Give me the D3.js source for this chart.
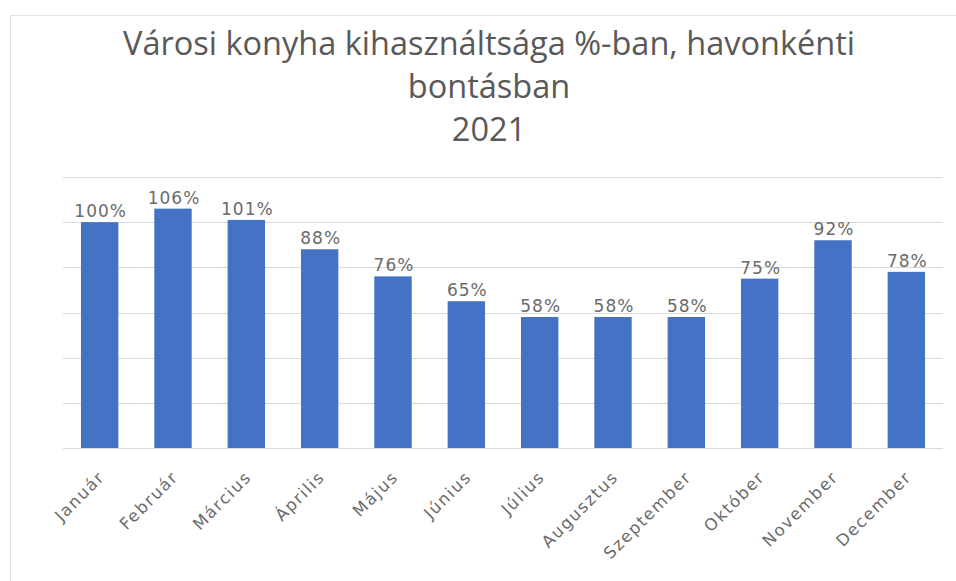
<!DOCTYPE html>
<html lang="hu">
<head>
  <meta charset="UTF-8">
  <title>Városi konyha</title>
  <style>
    body { margin: 0; background: #fff; }
    .grid line { stroke: #d9d9d9; stroke-width: 1px; }
    .grid path { display: none; }
    .title { font-family: 'Open Sans', sans-serif; font-size: 32.5px; fill: #595959; }
    .valLabel { font-family: 'DejaVu Sans', sans-serif; font-size: 17px; letter-spacing: 1px; fill: #6b6b6b; }
    .xaxis text { font-family: 'DejaVu Sans', sans-serif; font-size: 16.5px; letter-spacing: 1.6px; fill: #6b6b6b; }
    .xaxis path, .xaxis line { display: none; }
  </style>
  <script src="https://cdn.jsdelivr.net/npm/d3@7"></script>
</head>
<body>
  <div class="container"></div>
<script>
  var months = ["Január", "Február", "Március", "Április", "Május", "Június",
                "Július", "Augusztus", "Szeptember", "Október", "November", "December"];
  var values = [100, 106, 101, 88, 76, 65, 58, 58, 58, 75, 92, 78];
  var titleLines = ["Városi konyha kihasználtsága %-ban, havonkénti", "bontásban", "2021"];
  var gridTicks = [0, 20, 40, 60, 80, 100, 120];

  var svgWidth = 956, svgHeight = 581;
  var margin = {top: 177, left: 63, right: 13, bottom: 133};
  var width = svgWidth - margin.left - margin.right;
  var height = svgHeight - margin.top - margin.bottom;

  var svg = d3.select('.container').append('svg')
              .attr('width', svgWidth)
              .attr('height', svgHeight);

  // chart area frame (only top / left edges are visible in the crop)
  svg.append('rect')
     .attr('x', 10.5).attr('y', 15.5)
     .attr('width', svgWidth + 20).attr('height', svgHeight + 20)
     .attr('fill', 'none')
     .attr('stroke', '#e3e3e3');

  var x = d3.scaleBand().domain(months).range([0, width]).paddingInner(0.49).paddingOuter(0.245);
  var y = d3.scaleLinear().domain([0, 120]).range([height, 0]);

  var g = svg.append('g').attr('transform', `translate(${margin.left},${margin.top})`);

  g.append('g')
   .attr('class', 'grid')
   .call(d3.axisLeft(y).tickValues(gridTicks).tickSize(-width).tickFormat(''))
   .selectAll('line').attr('shape-rendering', 'crispEdges');

  g.selectAll('.bar')
   .data(values)
   .enter().append('rect')
   .attr('class', 'bar')
   .attr('x', (d, i) => x(months[i]))
   .attr('y', d => y(d))
   .attr('width', x.bandwidth())
   .attr('height', d => height - y(d))
   .attr('fill', '#4472c4');

  g.selectAll('.valLabel')
   .data(values)
   .enter().append('text')
   .attr('class', 'valLabel')
   .attr('x', (d, i) => x(months[i]) + x.bandwidth() / 2 + 1)
   .attr('y', d => y(d) - 5)
   .attr('text-anchor', 'middle')
   .text(d => d + '%');

  g.append('g')
   .attr('class', 'xaxis')
   .attr('transform', `translate(0,${height})`)
   .call(d3.axisBottom(x).tickSize(0))
   .selectAll('text')
   .attr('text-anchor', 'end')
   .attr('dx', 0).attr('dy', 0)
   .attr('transform', 'translate(4,28) rotate(-45)');

  var title = svg.append('g');
  title.selectAll('text')
       .data(titleLines)
       .enter().append('text')
       .attr('class', 'title')
       .attr('x', 489)
       .attr('y', (d, i) => 55 + i * 43)
       .attr('text-anchor', 'middle')
       .text(d => d);
</script>
</body>
</html>
